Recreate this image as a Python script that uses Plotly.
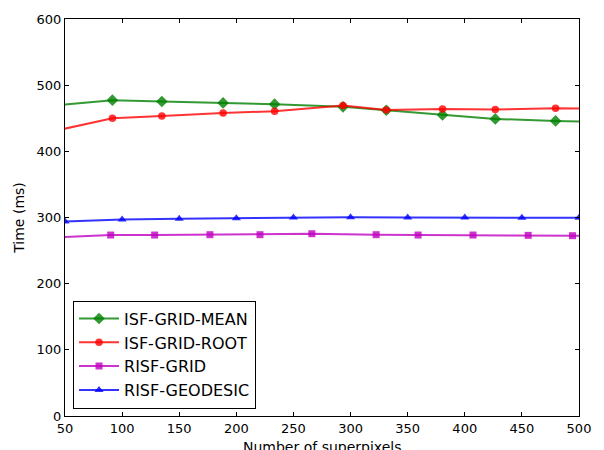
import plotly.graph_objects as go

# ---- data ----
isf_x = [40, 91.5, 134.8, 188.4, 233.5, 293.4, 331.3, 380.5, 426.7, 479.5, 525]
isf_mean_y = [469.0, 477.3, 475.3, 473.2, 471.2, 467.2, 462.1, 455.0, 449.0, 446.0, 443.8]
isf_root_y = [430.5, 450.0, 453.5, 458.0, 460.6, 469.2, 462.6, 464.1, 463.1, 465.2, 464.3]

risf_grid_x = [40, 90, 128.5, 176.9, 220.7, 266.1, 322.4, 359.1, 407.2, 455.5, 494.3, 530]
risf_grid_y = [270.0, 273.5, 273.5, 274.0, 274.0, 275.5, 274.0, 273.5, 273.5, 273.0, 272.5, 272.0]

risf_geo_x = [50, 100, 150, 200, 250, 300, 350, 400, 450, 500]
risf_geo_y = [294.0, 297.0, 298.0, 299.0, 300.0, 300.5, 300.0, 300.0, 299.5, 299.5]

x_ticks = [50, 100, 150, 200, 250, 300, 350, 400, 450, 500]
y_ticks = [0, 100, 200, 300, 400, 500, 600]

FONT = "DejaVu Sans"

fig = go.Figure()
series = [
    ("ISF-GRID-MEAN", isf_x, isf_mean_y, "rgba(0,128,0,0.8)", "diamond", 9),
    ("ISF-GRID-ROOT", isf_x, isf_root_y, "rgba(255,0,0,0.8)", "circle", 7.5),
    ("RISF-GRID", risf_grid_x, risf_grid_y, "rgba(191,0,191,0.8)", "square", 7),
    ("RISF-GEODESIC", risf_geo_x, risf_geo_y, "rgba(0,0,255,0.8)", "triangle-up", 8),
]
for name, xs, ys, col, sym, sz in series:
    fig.add_trace(go.Scatter(
        x=xs, y=ys, name=name, mode="lines+markers",
        line=dict(color=col, width=2),
        marker=dict(color=col, symbol=sym, size=sz, line=dict(width=0)),
        cliponaxis=True,
    ))

axis_common = dict(
    showgrid=False, zeroline=False, showline=True, linecolor="black", linewidth=1,
    mirror="allticks", ticks="inside", ticklen=4, tickwidth=1, tickcolor="black",
    tickfont=dict(family=FONT, size=13, color="black"),
)
fig.update_xaxes(range=[50, 500], tickvals=x_ticks, ticktext=[str(v) for v in x_ticks],
                 **axis_common)
fig.update_yaxes(range=[0, 600], tickvals=y_ticks, ticktext=[str(v) for v in y_ticks],
                 title=dict(text="Time (ms)", font=dict(family=FONT, size=14, color="black"), standoff=8),
                 **axis_common)

# x-axis title placed as an annotation so it sits low like the reference (partly cut off)
fig.add_annotation(
    text="Number of superpixels", xref="paper", yref="paper",
    x=0.5, y=-0.054, xanchor="center", yanchor="top", showarrow=False,
    font=dict(family=FONT, size=14, color="black"),
)

fig.update_layout(
    width=604, height=450,
    margin=dict(l=65, r=25, t=19, b=34, autoexpand=False),
    paper_bgcolor="white", plot_bgcolor="white",
    font=dict(family=FONT, color="black"),
    legend=dict(
        x=0.0156, y=0.0186, xanchor="left", yanchor="bottom",
        bgcolor="white", bordercolor="black", borderwidth=1,
        font=dict(family=FONT, size=16, color="black"),
        itemwidth=40,
    ),
)

fig.write_html("out.html")
